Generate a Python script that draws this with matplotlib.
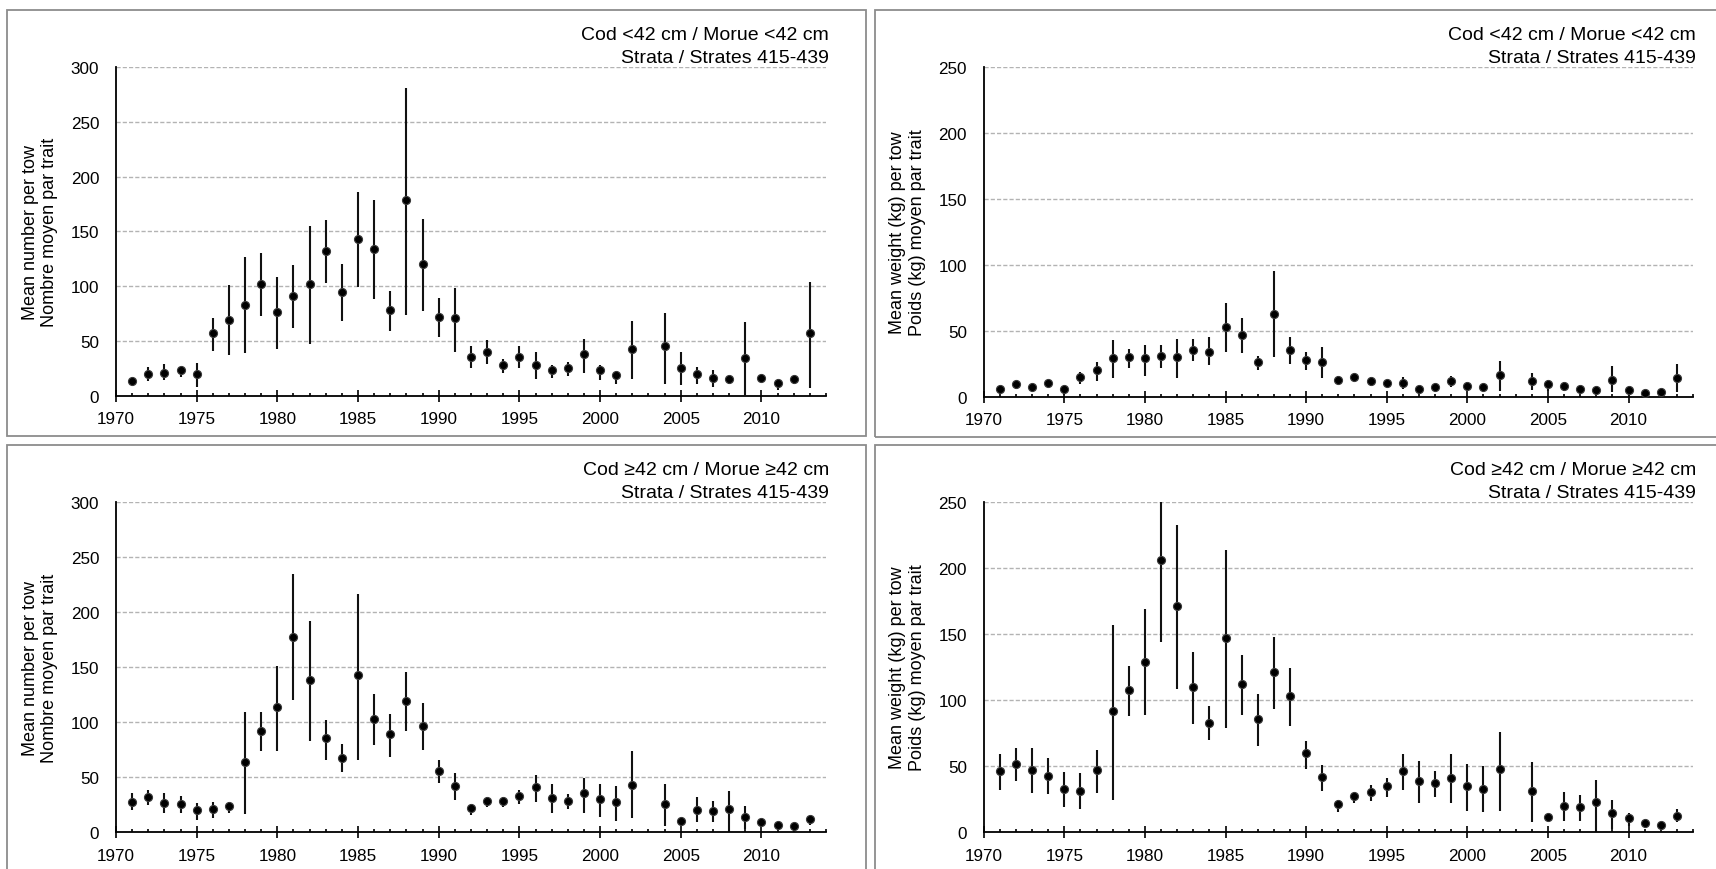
import matplotlib
matplotlib.use("Agg")
import matplotlib.pyplot as plt
from matplotlib.patches import Rectangle
from matplotlib.ticker import MultipleLocator
import numpy as np

plt.rcParams["font.family"] = ["Liberation Sans", "DejaVu Sans"]

W, H = 1716, 870

# survey years (no survey in 2003)
years = list(range(1971, 2003)) + list(range(2004, 2014))

# Cod <42 cm, mean number per tow
num_small_mean = [13, 20, 21, 23, 20, 57, 69, 83, 102, 76, 91, 102, 132, 95, 143, 134, 78, 179, 120, 72,
                  71, 35, 40, 28, 35, 28, 23, 25.5, 38, 23, 18.5, 43,
                  45, 25.5, 20, 16, 15, 34, 16, 12, 15, 57]
num_small_low = [11, 13, 14, 17, 8, 41, 37, 39, 73, 43, 62, 47, 103, 68, 99, 88, 59, 74, 77, 54,
                 40, 25, 29, 21, 25, 15.5, 16, 18, 21, 14, 11, 15,
                 11, 10, 11, 8, 11, 0, 13, 5.5, 11, 7]
num_small_high = [15, 26, 29, 26, 30, 71, 101, 127, 130, 108, 119, 155, 160, 120, 186, 179, 96, 281, 161, 89,
                  98, 45, 50.5, 33.5, 45, 39.5, 28, 31, 52, 28, 22, 68.5,
                  75.5, 39.5, 26, 23, 18, 67, 19, 15, 18, 104]

# Cod <42 cm, mean weight (kg) per tow
wt_small_mean = [6, 9.4, 7, 10.6, 6, 15, 20, 29, 30, 29, 31, 30, 35.6, 34, 52.6, 47, 26.5, 62.7, 35.6, 28,
                 26.5, 13, 15, 11.6, 10.4, 10.6, 6, 7, 12, 8.3, 7, 16.4,
                 12, 9.4, 8.3, 6, 4.8, 13, 4.8, 2.5, 3.5, 14]
wt_small_low = [2, 6, 4, 7, 1, 10, 12, 14, 21.5, 16, 21.5, 14, 27, 24, 34, 33, 20.5, 30, 25, 20.5,
                14, 9.6, 13, 8, 8, 6, 2, 4.5, 7, 5.8, 4.5, 4.5,
                5.3, 4.5, 4.5, 3.3, 2, 3.3, 0.8, 0.8, 1.3, 3.3]
wt_small_high = [8, 12, 9, 13, 8, 18.5, 26, 43, 36, 39.5, 39, 44, 44, 45, 71, 60, 31, 95, 45, 33.6,
                 38, 15.4, 17, 14.7, 13, 14.7, 8, 9.6, 16, 11.4, 9.6, 27,
                 18, 13, 11, 8.3, 7, 23.5, 7, 4.5, 5.8, 25]

# Cod >=42 cm, mean number per tow
num_large_mean = [28, 32.4, 27, 26, 20, 21.5, 24, 63.6, 92, 114, 178, 138.5, 85.5, 67.6, 142.7, 103, 89.7, 119.7, 96.4, 55.5,
                  42, 21.8, 28.8, 28.8, 32.7, 41, 31, 28.8, 35.5, 30, 27.3, 43.3,
                  25.8, 10.6, 20.3, 19, 21.5, 13.6, 9, 7, 5.5, 12]
num_large_low = [20, 25, 18, 17.5, 11.5, 12.7, 18, 17, 74, 74, 120.6, 82.7, 66, 55, 66, 79.7, 68.8, 91.8, 75, 44.5,
                 29.4, 15.8, 22.7, 22.7, 25.8, 27.9, 18, 21, 18, 14, 10, 13,
                 6, 9, 9, 9, 1.5, 3, 4.5, 4, 3, 6.7]
num_large_high = [35.5, 38.5, 35.5, 33, 27, 28, 28, 109, 109, 151.5, 235, 192, 102, 80, 216.7, 125.8, 108, 146, 117.6, 65.8,
                  53.6, 25.8, 31.8, 31.8, 38.5, 52, 44, 35, 49.4, 44, 42.4, 73.6,
                  44, 12, 31.8, 28.8, 37.3, 23.6, 12, 9.7, 7.6, 15]

# Cod >=42 cm, mean weight (kg) per tow
wt_large_mean = [46, 52, 47.4, 42.8, 32.8, 31.5, 47.4, 91.5, 107.6, 129, 206, 170.9, 109.6, 82.7, 147, 112, 86, 121, 102.8, 60,
                 41.6, 21.4, 27.2, 30.7, 35, 46, 38.5, 37.3, 40.8, 34.8, 32.8, 47.6,
                 31.5, 11.3, 20, 19, 22.7, 14.6, 10.6, 6.8, 5.5, 12.6]
wt_large_low = [32, 39, 30, 29, 19, 17.6, 30, 24.4, 87.7, 89, 143.6, 108.4, 82, 69.8, 78.9, 89, 65, 93.2, 80.6, 47.9,
                31, 15, 22, 23.4, 26.5, 32, 22, 26.5, 22, 16.4, 15, 16.4,
                8, 10, 8.3, 8.3, 1.3, 2.5, 5, 3.8, 3, 7.5]
wt_large_high = [59, 63.8, 63.8, 56, 45.9, 44.6, 62.5, 156.7, 126, 169, 250.7, 232.6, 136.6, 95.8, 213.7, 134, 104.6, 147.7, 124, 69.3,
                 51, 24.4, 30, 35.8, 40.8, 59, 53.7, 46.6, 59, 51.7, 49.9, 76,
                 53.4, 12.5, 30.7, 28.5, 39.8, 24.4, 14.6, 8.8, 7.6, 17.6]

label_num = "Mean number per tow\nNombre moyen par trait"
label_wt = "Mean weight (kg) per tow\nPoids (kg) moyen par trait"
title_small = "Cod <42 cm / Morue <42 cm"
title_large = "Cod \u226542 cm / Morue \u226542 cm"
title_strata = "Strata / Strates 415-439"


def px_axes(fig, x0, y0, x1, y1):
    return fig.add_axes([x0 / W, 1 - y1 / H, (x1 - x0) / W, (y1 - y0) / H])


def px_box(fig, x0, y0, x1, y1):
    fig.patches.append(Rectangle((x0 / W, 1 - y1 / H), (x1 - x0) / W, (y1 - y0) / H,
                                 transform=fig.transFigure, fill=False,
                                 edgecolor="#8c8c8c", linewidth=1.3))


def draw_panel(ax, mean, low, high, ymax, ylabel, title):
    mean = np.array(mean, dtype=float)
    err = [mean - np.array(low), np.array(high) - mean]
    ax.errorbar(years, mean, yerr=err, fmt="o", color="#111111", ecolor="#111111",
                elinewidth=1.5, capsize=0, markersize=5.8,
                markerfacecolor="black", markeredgecolor="#3a3a3a", markeredgewidth=0.8,
                clip_on=True, zorder=3)
    ax.set_xlim(1970, 2014)
    ax.set_ylim(0, ymax)
    ax.xaxis.set_major_locator(MultipleLocator(5))
    ax.xaxis.set_minor_locator(MultipleLocator(1))
    ax.yaxis.set_major_locator(MultipleLocator(50))
    for side in ("top", "right"):
        ax.spines[side].set_visible(False)
    for side in ("left", "bottom"):
        ax.spines[side].set_linewidth(1.3)
        ax.spines[side].set_color("black")
    ax.tick_params(axis="x", which="major", direction="inout", length=8.5, width=1.2,
                   pad=7, labelsize=12.3)
    ax.tick_params(axis="x", which="minor", direction="in", length=2.5, width=1.2)
    ax.tick_params(axis="y", which="major", length=0, pad=12, labelsize=12.3)
    ax.yaxis.grid(True, linestyle=(0, (3, 1.5)), color="#b3b3b3", linewidth=1.0)
    ax.set_axisbelow(True)
    ax.set_ylabel(ylabel, fontsize=13, linespacing=1.2, labelpad=9)
    ax.annotate(title, xy=(1, 1), xycoords="axes fraction", xytext=(3, 28),
                textcoords="offset pixels", ha="right", va="baseline", fontsize=14)
    ax.annotate(title_strata, xy=(1, 1), xycoords="axes fraction", xytext=(3, 5),
                textcoords="offset pixels", ha="right", va="baseline", fontsize=14)


fig = plt.figure(figsize=(W / 100, H / 100), dpi=100)

px_box(fig, 7, 11, 866.5, 437)
px_box(fig, 875, 11, 1730, 438)
px_box(fig, 7, 446, 866.5, 890)
px_box(fig, 875, 446, 1730, 890)

ax_tl = px_axes(fig, 116, 68, 826, 396.7)
ax_tr = px_axes(fig, 983.7, 68, 1693, 397.7)
ax_bl = px_axes(fig, 116, 503.3, 826, 833.3)
ax_br = px_axes(fig, 983.7, 502.7, 1693, 833.3)

draw_panel(ax_tl, num_small_mean, num_small_low, num_small_high, 300, label_num, title_small)
draw_panel(ax_tr, wt_small_mean, wt_small_low, wt_small_high, 250, label_wt, title_small)
draw_panel(ax_bl, num_large_mean, num_large_low, num_large_high, 300, label_num, title_large)
draw_panel(ax_br, wt_large_mean, wt_large_low, wt_large_high, 250, label_wt, title_large)

fig.savefig("out.png", dpi=100)
